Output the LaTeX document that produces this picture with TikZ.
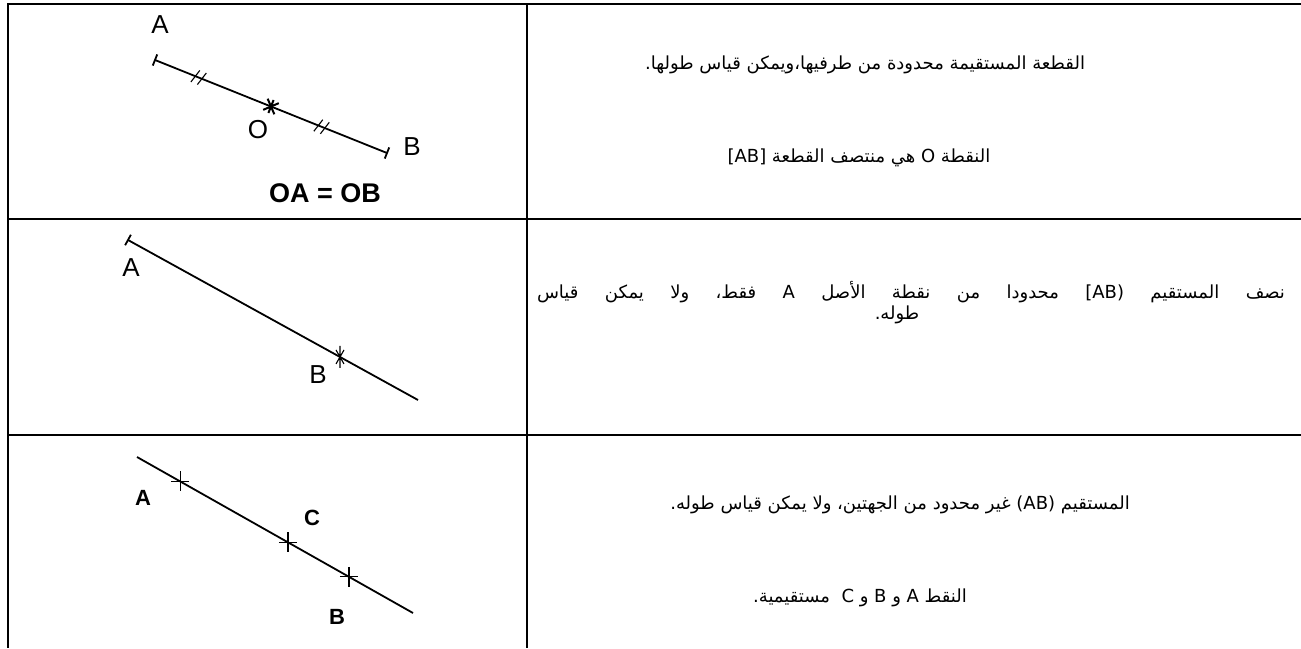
\documentclass[tikz,border=0pt]{standalone}
\usepackage{fontspec}
\setmainfont{Liberation Sans}
\newfontfamily\arabicfont[Script=Arabic]{DejaVu Sans}
\TeXXeTstate=1
\usetikzlibrary{calc}

\tikzset{
    grid line/.style={line width=2.4pt},
    fig line/.style={line width=1.8pt},
    tick line/.style={line width=1.1pt},
    thin lbl/.style={font=\fontsize{26}{30}\selectfont},
    bold lbl/.style={font=\fontsize{22}{26}\selectfont\bfseries},
    arabic/.style={font=\fontsize{18}{21}\selectfont\arabicfont, align=center},
    eqmark/.pic={\draw[tick line] (-6,7) -- (-2,-7) (1,7) -- (5,-7);},
    plusmark/.pic={\draw[tick line] (0,-10) -- (0,10) (-9,0) -- (9,0);},
    xmark/.pic={\draw[tick line] (0,-11) -- (0,11) (-4,-7) -- (4,7) (4,-7) -- (-4,7);},
    boldmark/.pic={\draw[line width=2pt] (-6,-6) -- (6,6) (6,-6) -- (-6,6) (0,-7) -- (0,7);}
}

\begin{document}
\begin{tikzpicture}[x=1pt,y=-1pt]
    \useasboundingbox (0,0) rectangle (1301,648);

    % Table
    \draw[grid line] (1301,4) -- (8,4) -- (8,648);
    \draw[grid line] (527,4) -- (527,648);
    \draw[grid line] (8,219) -- (1301,219);
    \draw[grid line] (8,435) -- (1301,435);

    % Row 1: segment [AB] with midpoint O
    \coordinate (segA) at (155,60);
    \coordinate (segB) at (387,153);
    \coordinate (segO) at ($(segA)!0.5!(segB)$);
    \draw[fig line] (segA) -- (segB);
    \foreach \p/\q in {segA/segB, segB/segA}
        \draw[fig line] ($(\p)!6pt!90:(\q)$) -- ($(\p)!6pt!-90:(\q)$);
    \path (segO) pic[rotate=-21.8] {boldmark};
    \path ($(segA)!0.19!(segB)$) pic[rotate=-21.8] {eqmark};
    \path ($(segA)!0.72!(segB)$) pic[rotate=-21.8] {eqmark};
    \node[thin lbl] (segAl) at (160,25) {A};
    \node[thin lbl] (segOl) at (258,130) {O};
    \node[thin lbl] (segBl) at (412,147) {B};
    \node[font=\fontsize{27}{30}\selectfont\bfseries] (segeq) at (325,193) {OA = OB};

    % Row 2: half-line [AB)
    \coordinate (rayA) at (128,240);
    \coordinate (rayE) at (418,400);
    \coordinate (rayB) at ($(rayA)!0.731!(rayE)$);
    \draw[fig line] (rayA) -- (rayE);
    \draw[fig line] ($(rayA)!6pt!90:(rayE)$) -- ($(rayA)!6pt!-90:(rayE)$);
    \path (rayB) pic {xmark};
    \node[thin lbl] (rayAl) at (131,268) {A};
    \node[thin lbl] (rayBl) at (318,375) {B};

    % Row 3: line (AB) with C
    \coordinate (linS) at (137,457);
    \coordinate (linE) at (413,613);
    \draw[fig line] (linS) -- (linE);
    \foreach \n/\t in {linA/0.156, linC/0.547, linB/0.768}
        \path ($(linS)!\t!(linE)$) coordinate (\n) pic {plusmark};
    \node[bold lbl] (linAl) at (143,498) {A};
    \node[bold lbl] (linCl) at (312,518) {C};
    \node[bold lbl] (linBl) at (337,617) {B};

    % Texts
    \node[arabic] (txt1a) at (865,65) {\beginR القطعة المستقيمة محدودة من طرفيها،ويمكن قياس طولها.\endR};
    \node[arabic] (txt1b) at (859,158) {\beginR النقطة O هي منتصف القطعة [AB]\endR};
    \node[arabic, inner sep=0pt] (txt2a) at (911,292) {\hbox to 748pt{\spaceskip=5pt plus 1fil\beginR نصف المستقيم [AB) محدودا من نقطة الأصل A فقط، ولا يمكن قياس\endR}};
    \node[arabic] (txt2b) at (897,315) {\beginR طوله.\endR};
    \node[arabic] (txt3a) at (900,505) {\beginR المستقيم (AB) غير محدود من الجهتين، ولا يمكن قياس طوله.\endR};
    \node[arabic] (txt3b) at (860,598) {\beginR النقط A و B و C\ \ مستقيمية.\endR};

\end{tikzpicture}
\end{document}
